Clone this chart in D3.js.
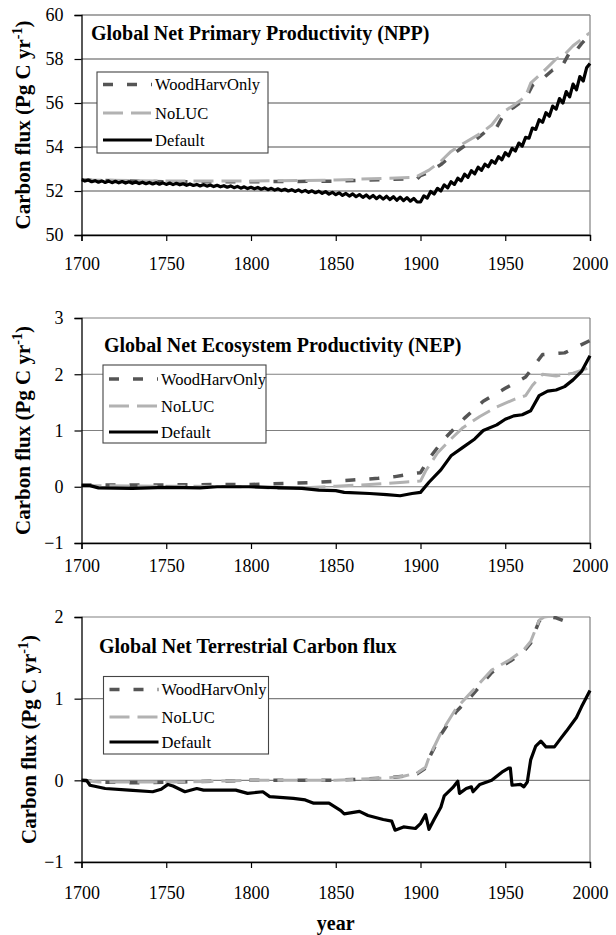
<!DOCTYPE html>
<html>
<head>
<meta charset="utf-8">
<script src="https://cdn.jsdelivr.net/npm/d3@7"></script>
<style>
  html, body { margin: 0; padding: 0; background: #fff; }
  svg, svg text { font-family: "Liberation Serif", "Times New Roman", Times, "DejaVu Serif", serif; }
</style>
</head>
<body>
<svg id="chart" width="616" height="935"></svg>
<script>
// ---- series names and shared ticks ----
const seriesNames = ["WoodHarvOnly", "NoLUC", "Default"];
const yearTicks = [1700, 1750, 1800, 1850, 1900, 1950, 2000];
const FONT = "'Liberation Serif', 'Times New Roman', Times, 'DejaVu Serif', serif";

// ---- Global NPP (Pg C / yr) ----
const nppTicks = [50, 52, 54, 56, 58, 60];
const nppDefaultYears = d3.range(1700, 2001, 2);
const nppDefault = [
  52.52, 52.45, 52.50, 52.42, 52.47, 52.40, 52.46, 52.39, 52.45, 52.38,
  52.44, 52.37, 52.43, 52.36, 52.42, 52.35, 52.41, 52.34, 52.40, 52.33,
  52.39, 52.32, 52.38, 52.31, 52.37, 52.30, 52.36, 52.29, 52.35, 52.28,
  52.33, 52.26, 52.32, 52.25, 52.30, 52.23, 52.29, 52.22, 52.27, 52.20,
  52.26, 52.19, 52.24, 52.17, 52.23, 52.15, 52.21, 52.13, 52.19, 52.11,
  52.17, 52.10, 52.16, 52.08, 52.14, 52.06, 52.12, 52.04, 52.10, 52.02,
  52.08, 52.00, 52.06, 51.98, 52.05, 51.96, 52.03, 51.94, 52.01, 51.92,
  51.99, 51.89, 51.97, 51.86, 51.94, 51.83, 51.92, 51.80, 51.89, 51.77,
  51.87, 51.74, 51.84, 51.71, 51.82, 51.68, 51.80, 51.65, 51.77, 51.63,
  51.76, 51.61, 51.74, 51.58, 51.72, 51.56, 51.70, 51.54, 51.66, 51.50,
  51.50, 51.78, 51.68, 51.98, 51.86, 52.12, 52.00, 52.28, 52.14, 52.42,
  52.30, 52.58, 52.46, 52.76, 52.62, 52.92, 52.78, 53.08, 52.94, 53.22,
  53.10, 53.38, 53.26, 53.56, 53.42, 53.74, 53.60, 53.94, 53.82, 54.18,
  54.04, 54.44, 54.40, 54.86, 54.80, 55.24, 55.12, 55.56, 55.40, 55.86,
  55.72, 56.20, 56.00, 56.52, 56.28, 56.86, 56.60, 57.20, 57.00, 57.60,
  57.80
];
const nppWood = [
  [1700, 52.50], [1750, 52.42], [1800, 52.42], [1850, 52.45], [1870, 52.50],
  [1890, 52.55], [1898, 52.55], [1900, 52.70], [1905, 52.85], [1912, 53.20],
  [1918, 53.60], [1925, 54.00], [1932, 54.30], [1940, 54.80], [1945, 54.90],
  [1950, 55.60], [1955, 55.80], [1962, 56.20], [1966, 56.80], [1972, 57.10],
  [1978, 57.50], [1983, 57.60], [1988, 58.30], [1990, 58.20], [1995, 58.70],
  [2000, 59.10]
];
const nppNoLUC = [
  [1700, 52.50], [1750, 52.45], [1800, 52.45], [1850, 52.50], [1880, 52.58],
  [1897, 52.62], [1900, 52.75], [1905, 52.95], [1912, 53.35], [1918, 53.80],
  [1925, 54.15], [1935, 54.60], [1942, 55.00], [1947, 55.50], [1955, 55.90],
  [1962, 56.30], [1965, 56.90], [1972, 57.40], [1980, 58.00], [1985, 58.20],
  [1990, 58.60], [1995, 58.90], [2000, 59.20]
];

// ---- Global NEP (Pg C / yr) ----
const nepTicks = [-1, 0, 1, 2, 3];
const nepWood = [
  [1700, 0.03], [1740, 0.03], [1780, 0.04], [1800, 0.04], [1820, 0.06],
  [1840, 0.08], [1860, 0.12], [1875, 0.15], [1885, 0.18], [1897, 0.24],
  [1900, 0.25], [1905, 0.50], [1914, 0.85], [1926, 1.22], [1937, 1.52],
  [1950, 1.75], [1962, 1.95], [1972, 2.35], [1985, 2.38], [2000, 2.60]
];
const nepNoLUC = [
  [1700, 0.02], [1800, 0.00], [1815, -0.03], [1830, -0.02], [1850, 0.01],
  [1870, 0.04], [1890, 0.08], [1900, 0.10], [1903, 0.28], [1910, 0.60],
  [1918, 0.85], [1925, 1.05], [1935, 1.25], [1945, 1.42], [1955, 1.55],
  [1962, 1.62], [1966, 1.80], [1972, 2.00], [1980, 1.97], [1990, 2.02],
  [2000, 2.12]
];
const nepDefault = [
  [1700, 0.02], [1705, 0.02], [1710, -0.02], [1730, -0.03], [1750, -0.01],
  [1770, -0.02], [1780, 0.00], [1800, 0.00], [1810, -0.01], [1830, -0.03],
  [1840, -0.06], [1850, -0.07], [1855, -0.10], [1870, -0.12], [1880, -0.14],
  [1888, -0.16], [1895, -0.12], [1900, -0.10], [1905, 0.08], [1912, 0.30],
  [1918, 0.55], [1925, 0.70], [1932, 0.85], [1937, 1.00], [1945, 1.10],
  [1950, 1.20], [1955, 1.26], [1960, 1.28], [1965, 1.35], [1970, 1.62],
  [1975, 1.70], [1980, 1.72], [1985, 1.78], [1990, 1.90], [1995, 2.05],
  [2000, 2.33]
];

// ---- Global net terrestrial carbon flux (Pg C / yr) ----
const netTicks = [-1, 0, 1, 2];
const netWood = [
  [1700, 0.00], [1710, -0.02], [1730, -0.03], [1760, -0.02], [1800, 0.00],
  [1830, 0.00], [1850, 0.00], [1860, 0.01], [1870, 0.02], [1880, 0.03],
  [1890, 0.05], [1898, 0.08], [1903, 0.15], [1905, 0.27], [1912, 0.56],
  [1921, 0.84], [1930, 1.03], [1942, 1.32], [1953, 1.46], [1961, 1.58],
  [1965, 1.68], [1970, 1.95], [1973, 2.00], [1980, 1.99], [1985, 1.95],
  [1990, 2.20], [2000, 2.50]
];
const netNoLUC = [
  [1700, 0.00], [1710, -0.02], [1730, -0.02], [1760, -0.02], [1800, 0.00],
  [1830, 0.00], [1850, 0.00], [1860, 0.01], [1870, 0.02], [1880, 0.03],
  [1890, 0.05], [1898, 0.09], [1903, 0.16], [1905, 0.28], [1912, 0.58],
  [1921, 0.88], [1930, 1.08], [1942, 1.35], [1953, 1.48], [1961, 1.60],
  [1965, 1.70], [1970, 1.96], [1973, 2.00], [1980, 2.02], [1990, 2.30],
  [2000, 2.60]
];
const netDefault = [
  [1700, 0.00], [1703, 0.00], [1705, -0.06], [1714, -0.10], [1728, -0.12],
  [1742, -0.14], [1747, -0.11], [1751, -0.05], [1754, -0.07], [1761, -0.14],
  [1768, -0.10], [1772, -0.12], [1791, -0.12], [1798, -0.16], [1807, -0.14],
  [1811, -0.20], [1825, -0.22], [1832, -0.24], [1837, -0.28], [1846, -0.28],
  [1853, -0.37], [1855, -0.41], [1864, -0.38], [1869, -0.43], [1878, -0.48],
  [1883, -0.50], [1885, -0.61], [1890, -0.57], [1897, -0.59], [1900, -0.53],
  [1903, -0.42], [1905, -0.60], [1908, -0.48], [1912, -0.33], [1914, -0.19],
  [1919, -0.09], [1922, -0.01], [1923, -0.16], [1927, -0.10], [1930, -0.08],
  [1931, -0.14], [1935, -0.05], [1942, 0.00], [1948, 0.10], [1952, 0.15],
  [1953, 0.15], [1954, -0.06], [1959, -0.05], [1961, -0.08], [1963, -0.02],
  [1965, 0.25], [1968, 0.42], [1971, 0.48], [1974, 0.41], [1979, 0.41],
  [1983, 0.52], [1986, 0.60], [1992, 0.77], [1995, 0.90], [1998, 1.02],
  [2000, 1.10]
];

// ---- drawing ----
const svg = d3.select("#chart");
const x = d3.scaleLinear().domain([1700, 2000]).range([81.5, 590]);

const styles = {
  WoodHarvOnly: { stroke: "#555555", width: 3.5, dash: "10,14" },
  NoLUC:        { stroke: "#b2b2b2", width: 3,   dash: "20,8" },
  Default:      { stroke: "#000000", width: 3.2, dash: null }
};

const panels = [
  {
    id: "npp", domain: [50, 60], range: [235, 15], ticks: nppTicks,
    grid: "#505050",
    title: "Global Net Primary Productivity (NPP)", titleX: 91, titleY: 40,
    xLabelBase: 270, yTitleX: 30,
    legend: { x: 97, y: 72, w: 171, h: 81, rows: [84.5, 113, 140] },
    series: {
      WoodHarvOnly: nppWood,
      NoLUC: nppNoLUC,
      Default: nppDefault.map((v, i) => [nppDefaultYears[i], v])
    }
  },
  {
    id: "nep", domain: [-1, 3], range: [543, 318], ticks: nepTicks,
    grid: "#808080",
    title: "Global Net Ecosystem Productivity (NEP)", titleX: 104, titleY: 352,
    xLabelBase: 572, yTitleX: 30,
    legend: { x: 103, y: 365, w: 163, h: 78, rows: [379, 406, 432] },
    series: { WoodHarvOnly: nepWood, NoLUC: nepNoLUC, Default: nepDefault }
  },
  {
    id: "net", domain: [-1, 2], range: [862, 617], ticks: netTicks,
    grid: "#808080",
    title: "Global Net Terrestrial Carbon flux", titleX: 99, titleY: 653,
    xLabelBase: 899, yTitleX: 36,
    legend: { x: 103.5, y: 676.5, w: 165, h: 77.5, rows: [689.5, 717, 742] },
    series: { WoodHarvOnly: netWood, NoLUC: netNoLUC, Default: netDefault }
  }
];

const [x0, x1] = x.range();

panels.forEach(p => {
  const y = d3.scaleLinear().domain(p.domain).range(p.range);
  const g = svg.append("g").attr("class", "panel-" + p.id).attr("font-family", FONT);
  const top = p.range[1], bottom = p.range[0];

  // horizontal gridlines (the top one doubles as the frame)
  g.append("g").selectAll("line").data(p.ticks).join("line")
    .attr("x1", x0).attr("x2", x1)
    .attr("y1", d => y(d)).attr("y2", d => y(d))
    .attr("stroke", p.grid).attr("stroke-width", 1.2);

  // right frame
  g.append("line").attr("x1", x1).attr("x2", x1).attr("y1", top).attr("y2", bottom)
    .attr("stroke", "#808080").attr("stroke-width", 1.2);

  // clipped data lines
  const clipId = "clip-" + p.id;
  g.append("clipPath").attr("id", clipId).append("rect")
    .attr("x", x0).attr("y", top - 1).attr("width", x1 - x0 + 2).attr("height", bottom - top + 2);

  const line = d3.line().x(d => x(d[0])).y(d => y(d[1]));
  const lines = g.append("g").attr("clip-path", `url(#${clipId})`);
  seriesNames.forEach(name => {
    const s = styles[name];
    lines.append("path").datum(p.series[name])
      .attr("d", line).attr("fill", "none")
      .attr("stroke", s.stroke).attr("stroke-width", s.width)
      .attr("stroke-dasharray", s.dash)
      .attr("stroke-linejoin", "round");
  });

  // y axis
  const yAxis = g.append("g").attr("transform", `translate(${x0},0)`)
    .call(d3.axisLeft(y).tickValues(p.ticks).tickFormat(d3.format("d")).tickSize(7).tickPadding(11));
  yAxis.attr("font-family", FONT).attr("font-size", 18);
  yAxis.select(".domain").attr("stroke", "#000").attr("stroke-width", 1.3);
  yAxis.selectAll(".tick line").attr("stroke", "#000").attr("stroke-width", 1.2);
  yAxis.selectAll(".tick text").attr("fill", "#000").style("font-family", FONT);

  // x axis
  const xAxis = g.append("g").attr("transform", `translate(0,${bottom})`)
    .call(d3.axisBottom(x).tickValues(yearTicks).tickFormat(d3.format("d")).tickSize(6).tickPadding(0));
  xAxis.attr("font-family", FONT).attr("font-size", 18);
  xAxis.select(".domain").attr("stroke", "#000").attr("stroke-width", 1.3);
  xAxis.selectAll(".tick line").attr("stroke", "#000").attr("stroke-width", 1.2);
  xAxis.selectAll(".tick text").attr("fill", "#000").style("font-family", FONT)
    .attr("dy", null).attr("y", p.xLabelBase - bottom);

  // y axis title
  const midY = (top + bottom) / 2;
  const yt = g.append("text")
    .attr("transform", `translate(${p.yTitleX},${midY}) rotate(-90)`)
    .attr("text-anchor", "middle").style("font-family", FONT)
    .attr("font-size", 21).attr("font-weight", "bold");
  yt.append("tspan").text("Carbon flux (Pg C yr");
  yt.append("tspan").attr("font-size", 14).attr("dy", -8).text("-1");
  yt.append("tspan").attr("dy", 8).text(")");

  // panel title
  g.append("text").attr("x", p.titleX).attr("y", p.titleY).style("font-family", FONT)
    .attr("font-size", 20).attr("font-weight", "bold").text(p.title);

  // legend
  const L = p.legend;
  const lg = g.append("g");
  lg.append("rect").attr("x", L.x).attr("y", L.y).attr("width", L.w).attr("height", L.h)
    .attr("fill", "#fff").attr("stroke", "#444").attr("stroke-width", 1.1);
  seriesNames.forEach((name, i) => {
    const s = styles[name];
    lg.append("line")
      .attr("x1", L.x + 6).attr("x2", L.x + 55)
      .attr("y1", L.rows[i]).attr("y2", L.rows[i])
      .attr("stroke", s.stroke).attr("stroke-width", s.width)
      .attr("stroke-dasharray", s.dash);
    lg.append("text").attr("x", L.x + 58).attr("y", L.rows[i] + 5.5)
      .style("font-family", FONT).attr("font-size", 16.5).text(name);
  });
});

// shared x axis title
svg.append("text").attr("x", (x0 + x1) / 2).attr("y", 930)
  .attr("text-anchor", "middle").style("font-family", FONT)
  .attr("font-size", 20).attr("font-weight", "bold")
  .text("year");
</script>
</body>
</html>
